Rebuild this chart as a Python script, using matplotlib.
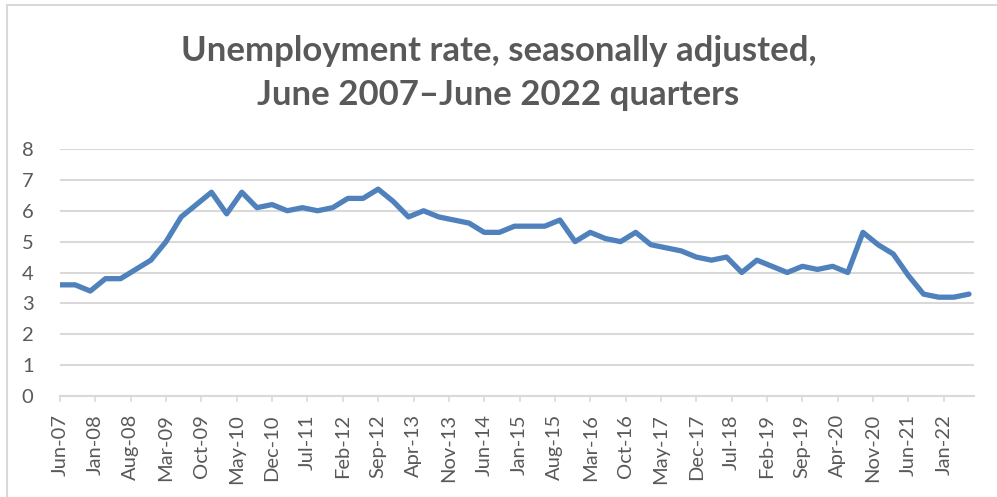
import matplotlib
matplotlib.use("Agg")
import matplotlib.pyplot as plt
from matplotlib.lines import Line2D
import pandas as pd

# Quarterly unemployment rate (%), seasonally adjusted
quarters = pd.date_range("2007-06-01", "2022-06-01", freq="3MS").strftime("%b-%y").tolist()
rate = [
    3.6, 3.6, 3.4,
    3.8, 3.8, 4.1, 4.4,
    5.0, 5.8, 6.2, 6.6,
    5.9, 6.6, 6.1, 6.2,
    6.0, 6.1, 6.0, 6.1,
    6.4, 6.4, 6.7, 6.3,
    5.8, 6.0, 5.8, 5.7,
    5.6, 5.3, 5.3, 5.5,
    5.5, 5.5, 5.7, 5.0,
    5.3, 5.1, 5.0, 5.3,
    4.9, 4.8, 4.7, 4.5,
    4.4, 4.5, 4.0, 4.4,
    4.2, 4.0, 4.2, 4.1,
    4.2, 4.0, 5.3, 4.9,
    4.6, 3.9, 3.3, 3.2,
    3.2, 3.3,
]

# Date-axis labels every seven months
tick_labels = [
    "Jun-07", "Jan-08", "Aug-08", "Mar-09", "Oct-09", "May-10", "Dec-10",
    "Jul-11", "Feb-12", "Sep-12", "Apr-13", "Nov-13", "Jun-14", "Jan-15",
    "Aug-15", "Mar-16", "Oct-16", "May-17", "Dec-17", "Jul-18", "Feb-19",
    "Sep-19", "Apr-20", "Nov-20", "Jun-21", "Jan-22",
]
y_ticks = [0, 1, 2, 3, 4, 5, 6, 7, 8]

title = "Unemployment rate, seasonally adjusted,\nJune 2007\u2013June 2022 quarters"

# Month offsets from the first quarter
start = pd.Timestamp("2007-06-01")
def month_offset(label):
    d = pd.to_datetime(label, format="%b-%y")
    return (d.year - start.year) * 12 + (d.month - start.month)

x = [month_offset(q) for q in quarters]
tick_pos = [month_offset(t) for t in tick_labels]

TEXT = "#595959"
GRID = "#d9d9d9"
LINE = "#4f81bd"
FONT = ["Lato", "DejaVu Sans"]

W, H = 997, 497
fig = plt.figure(figsize=(W / 100, H / 100), dpi=100)
fig.patch.set_facecolor("white")

# chart area border
fig.add_artist(Line2D([7 / W, 1.0], [1 - 5 / H, 1 - 5 / H], color=GRID, lw=1.5))
fig.add_artist(Line2D([7 / W, 7 / W], [0.0, 1 - 5 / H], color=GRID, lw=1.5))

ax = fig.add_axes([60 / W, 1 - 396 / H, (974 - 60) / W, (396 - 149) / H])
ax.plot(x, rate, color=LINE, lw=3.8, solid_joinstyle="round", solid_capstyle="round", zorder=3)

ax.set_xlim(0, (974 - 60) / 5.05)
ax.set_ylim(0, 8)
ax.set_yticks(y_ticks)
ax.set_yticklabels([str(v) for v in y_ticks], fontsize=14.5, color=TEXT, family=FONT)
ax.set_xticks(tick_pos)
ax.set_xticklabels(tick_labels, rotation=90, fontsize=14.5, color=TEXT, family=FONT)

ax.grid(axis="y", color=GRID, lw=1.5)
ax.set_axisbelow(True)
for s in ["top", "right", "left"]:
    ax.spines[s].set_visible(False)
ax.spines["bottom"].set_color(GRID)
ax.spines["bottom"].set_linewidth(1.5)
ax.tick_params(axis="y", length=0, pad=19)
ax.tick_params(axis="x", length=4, width=1.2, color=GRID, pad=9)

fig.text(0.5, 1 - 73 / H, title, ha="center", va="center", fontsize=25,
         fontweight="bold", color=TEXT, family=FONT, linespacing=1.45)

fig.savefig("out.png", dpi=100)
